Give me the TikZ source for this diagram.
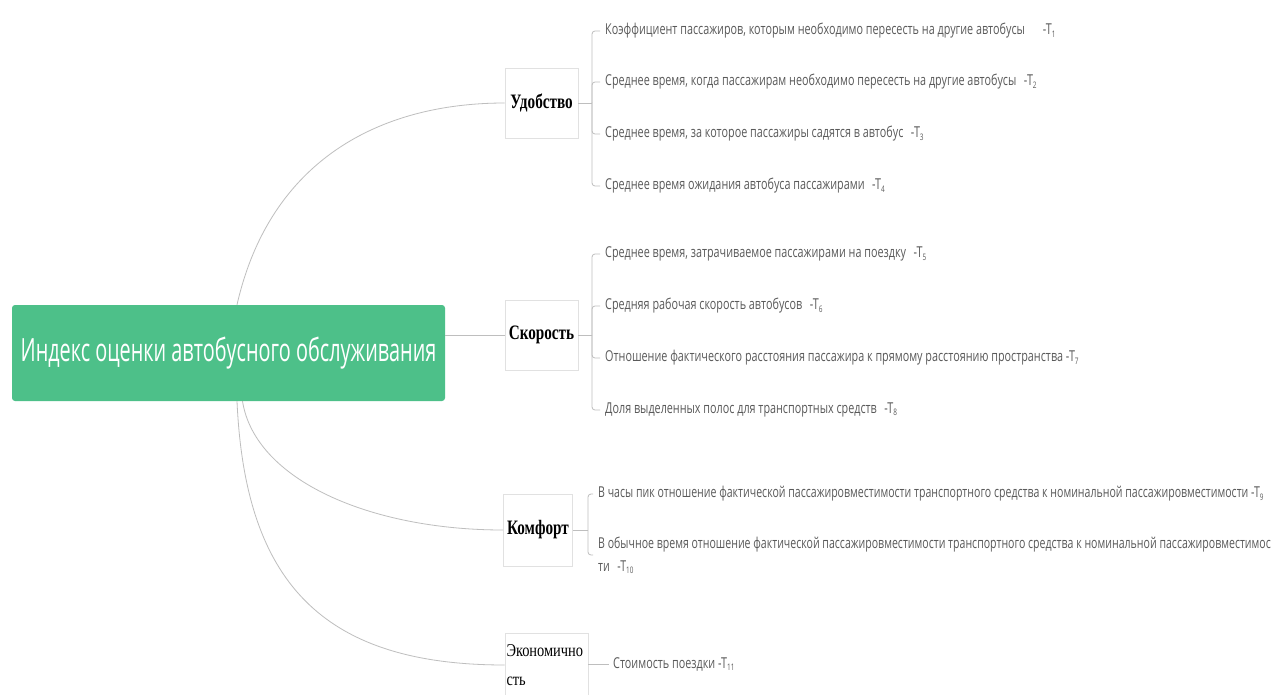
\documentclass[tikz,border=0pt]{standalone}
\usepackage{fontspec}
\newfontfamily\rootfont[FakeStretch=0.62]{Open Sans}
\newfontfamily\kidfont[FakeStretch=0.72]{Open Sans}
\newfontfamily\kidnarrow[FakeStretch=0.705]{Open Sans}
\newfontfamily\brfont[FakeStretch=0.74]{Liberation Serif}
\newfontfamily\ecfont[FakeStretch=0.8]{Liberation Serif}
\definecolor{rootgreen}{RGB}{77,192,137}
\definecolor{conncol}{RGB}{190,190,190}
\definecolor{boxcol}{RGB}{225,225,225}
\definecolor{kidcol}{RGB}{90,90,90}
\newcommand\tsb[1]{\raisebox{-0.3ex}{\fontsize{9}{9}\selectfont #1}}
\begin{document}
\begin{tikzpicture}[x=1pt,y=-1pt,
  rootbox/.style={fill=rootgreen,rounded corners=3pt,minimum width=433pt,minimum height=96pt,
    text=white,font=\rootfont\fontsize{32}{36}\selectfont,inner sep=0pt},
  brbox/.style={draw=boxcol,line width=0.6pt,fill=white,minimum width=73pt,minimum height=70pt,
    inner sep=1pt,font=\brfont\bfseries\fontsize{20.5}{24}\selectfont,text=black},
  kid/.style={anchor=west,inner sep=0pt,text=kidcol,font=\kidfont\fontsize{15}{23}\selectfont},
  kidn/.style={kid,font=\kidnarrow\fontsize{15}{23}\selectfont},
  conn/.style={draw=conncol,line width=0.8pt},
  tick/.style={conn,rounded corners=3pt,shorten >=5pt}]
\useasboundingbox (0,0) rectangle (1274,695);
\fill[white] (0,0) rectangle (1274,695);

% root
\node[rootbox] (root) at (228.5,353) {Индекс оценки автобусного обслуживания};

% branches
\node[brbox] (udob) at (541.5,103) {Удобство};
\node[brbox] (skor) at (541.5,335) {Скорость};
\node[brbox,minimum width=69pt,minimum height=72pt] (komf) at (538,530) {Комфорт};
\node[brbox,minimum width=83pt,minimum height=64pt,text width=80pt,align=left,
  font=\ecfont\fontsize{18}{29}\selectfont] (econ) at (546.5,665) {Экономично\\сть};

% children
\node[kid] (t1) at (605,31) {Коэффициент пассажиров, которым необходимо пересесть на другие автобусы\quad\ -T\tsb{1}};
\node[kid] (t2) at (605,82) {Среднее время, когда пассажирам необходимо пересесть на другие автобусы\enspace -T\tsb{2}};
\node[kid] (t3) at (605,134) {Среднее время, за которое пассажиры садятся в автобус\enspace -T\tsb{3}};
\node[kid] (t4) at (605,186) {Среднее время ожидания автобуса пассажирами\enspace -T\tsb{4}};

\node[kid] (t5) at (605,254) {Среднее время, затрачиваемое пассажирами на поездку\enspace -T\tsb{5}};
\node[kid] (t6) at (605,306) {Средняя рабочая скорость автобусов\enspace -T\tsb{6}};
\node[kid] (t7) at (605,358) {Отношение фактического расстояния пассажира к прямому расстоянию пространства -T\tsb{7}};
\node[kid] (t8) at (605,410) {Доля выделенных полос для транспортных средств\enspace -T\tsb{8}};

\node[kidn] (t9) at (598,494) {В часы пик отношение фактической пассажировместимости транспортного средства к номинальной пассажировместимости -T\tsb{9}};
\node[kidn,align=left] (t10) at (598,555) {В обычное время отношение фактической пассажировместимости транспортного средства к номинальной пассажировместимос\\ти\enspace -T\tsb{10}};

\node[kid] (t11) at (613,664) {Стоимость поездки -T\tsb{11}};

% root connectors
\draw[conn] ([xshift=8.5pt]root.north) .. controls (270,160) and (380,103) .. (udob.west);
\draw[conn] (root.east |- skor.west) -- (skor.west);
\draw[conn] ([xshift=14pt]root.south) .. controls (255,480) and (370,530) .. (komf.west);
\draw[conn] ([xshift=8.5pt]root.south) .. controls (245,580) and (320,665) .. (econ.west);

% brackets
\coordinate (us) at (592,103);
\draw[conn] (udob.east) -- (us);
\foreach \k in {t1,t2,t3,t4} \draw[tick] (us) |- (\k.west);

\coordinate (ss) at (592,335);
\draw[conn] (skor.east) -- (ss);
\foreach \k in {t5,t6,t7,t8} \draw[tick] (ss) |- (\k.west);

\coordinate (ks) at (588,530);
\draw[conn] (komf.east) -- (ks);
\foreach \k in {t9,t10} \draw[tick] (ks) |- (\k.west);

\draw[conn,shorten >=4pt] (econ.east |- t11.west) -- (t11.west);
\end{tikzpicture}
\end{document}
